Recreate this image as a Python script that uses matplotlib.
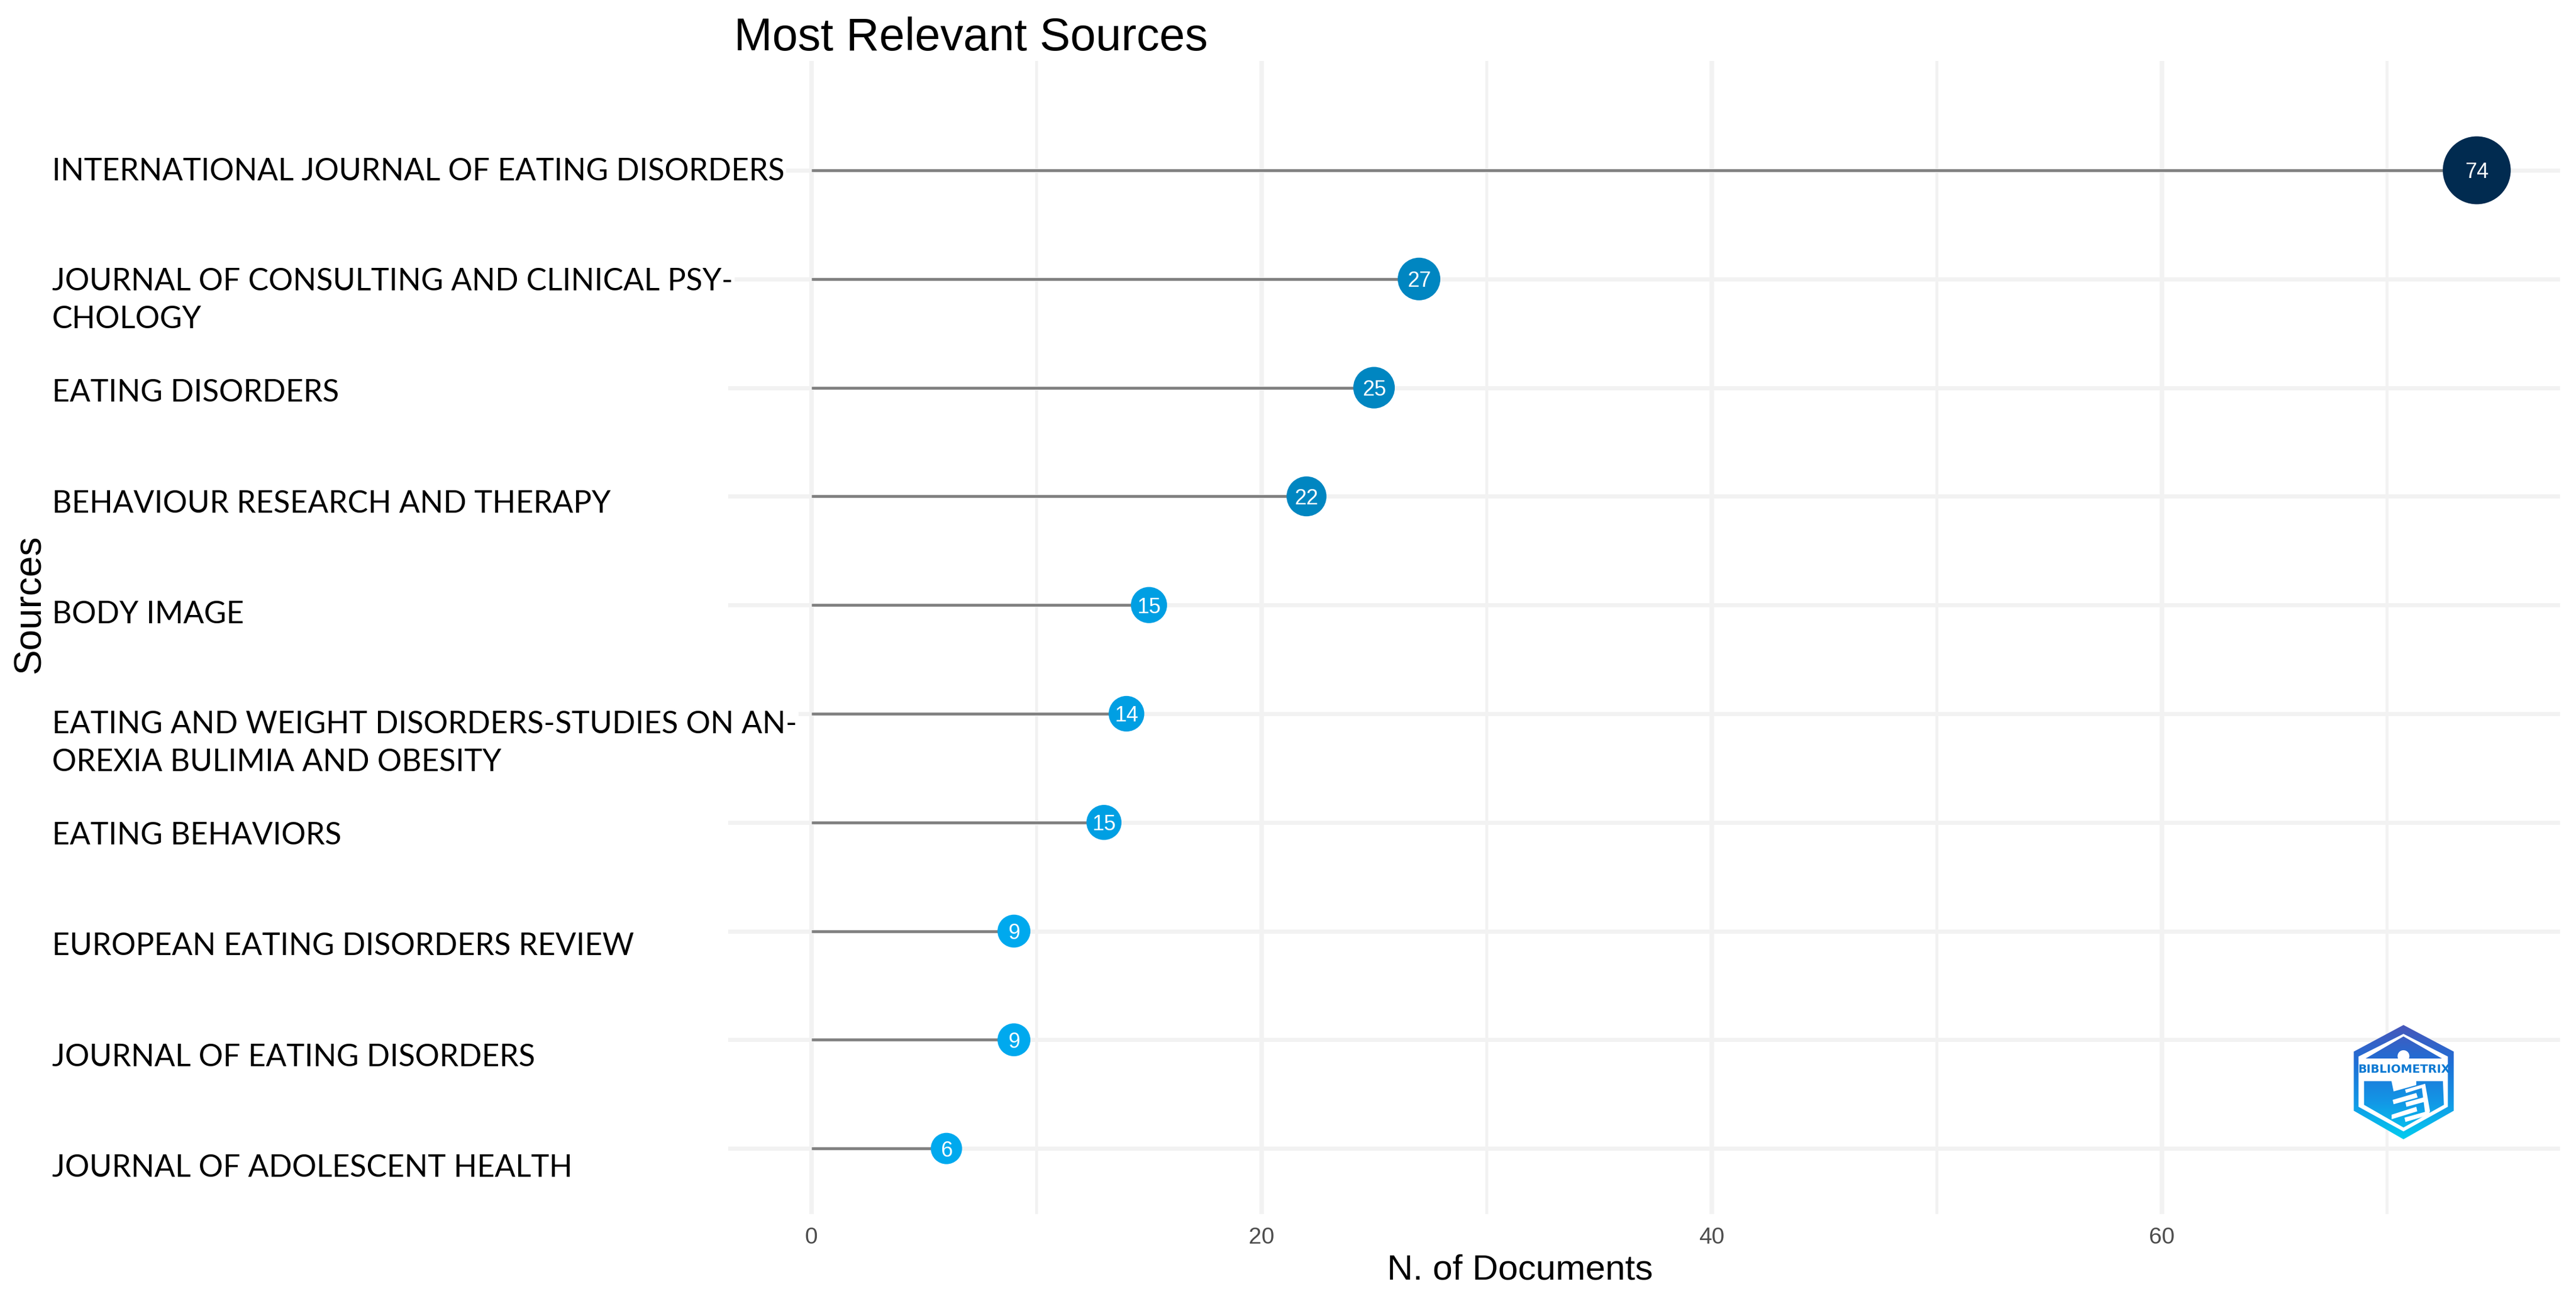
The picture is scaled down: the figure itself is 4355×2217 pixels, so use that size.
import numpy as np
import matplotlib
matplotlib.use('Agg')
import matplotlib.pyplot as plt
from matplotlib.colors import LinearSegmentedColormap
from matplotlib.patches import Polygon, Circle

sources = ['INTERNATIONAL JOURNAL OF EATING DISORDERS',
           'JOURNAL OF CONSULTING AND CLINICAL PSY-\nCHOLOGY',
           'EATING DISORDERS',
           'BEHAVIOUR RESEARCH AND THERAPY',
           'BODY IMAGE',
           'EATING AND WEIGHT DISORDERS-STUDIES ON AN-\nOREXIA BULIMIA AND OBESITY',
           'EATING BEHAVIORS',
           'EUROPEAN EATING DISORDERS REVIEW',
           'JOURNAL OF EATING DISORDERS',
           'JOURNAL OF ADOLESCENT HEALTH']
n_docs = [74, 27, 25, 22, 15, 14, 13, 9, 9, 6]
point_labels = ['74', '27', '25', '22', '15', '14', '15', '9', '9', '6']
major_ticks = [0, 20, 40, 60]
minor_ticks = [10, 30, 50, 70]

W, H = 4355, 2217
GRID = '#f2f2f2'


def fx(x):
    return x / W


def fy(y):
    return 1 - y / H


def dot_color(v):
    if v > 40:
        return '#012b50'
    if v > 20:
        return '#0086c1'
    if v > 10:
        return '#009fe3'
    return '#00a9ee'


fig = plt.figure(figsize=(W / 100, H / 100), dpi=100, facecolor='white')
ax = fig.add_axes([fx(1231), fy(2053), (4328 - 1231) / W, (2053 - 103) / H])
ax.set_xlim(-3.7, 77.7)
ax.set_ylim(9.603, -1.0065)
for s in ax.spines.values():
    s.set_visible(False)

rows = np.arange(len(sources))
ax.set_xticks(major_ticks)
ax.set_xticks(minor_ticks, minor=True)
ax.set_yticks(rows)
ax.set_yticklabels([])
ax.set_axisbelow(True)
ax.grid(axis='x', which='major', color=GRID, lw=5.5)
ax.grid(axis='x', which='minor', color=GRID, lw=3.6)
ax.grid(axis='y', which='major', color=GRID, lw=5)
ax.tick_params(axis='both', which='both', length=0)
ax.tick_params(axis='x', labelsize=28, labelcolor='#4d4d4d', pad=16)
for t in ax.get_xticklabels():
    t.set_family('Liberation Sans')

ax.hlines(rows, 0, n_docs, color='#808080', lw=3.4, zorder=2)
diam = 47.5 + 0.91 * np.array(n_docs)
ax.scatter(n_docs, rows, s=(diam * 0.72) ** 2, c=[dot_color(v) for v in n_docs],
           linewidths=0, zorder=3)
for v, r, lab in zip(n_docs, rows, point_labels):
    ax.text(v, r, lab, color='white', fontsize=26, ha='center', va='center_baseline',
            family='Liberation Sans', zorder=4)

# source names sit on their own spacing, a bit wider than the rows
for i, name in enumerate(sources):
    first_base = 305 + 187.2 * i
    n_extra = name.count('\n')
    fig.text(fx(88), fy(first_base + 63 * n_extra), name, family='Lato', fontsize=37.2,
             color='black', ha='left', va='baseline', linespacing=1.45,
             bbox=dict(facecolor='white', edgecolor='none', pad=2))

fig.text(fx(1241), fy(85), 'Most Relevant Sources', family='Liberation Sans', fontsize=55.8,
         ha='left', va='baseline')
fig.text(fx(2570), fy(2163), 'N. of Documents', family='Liberation Sans', fontsize=43.5,
         ha='center', va='baseline')
fig.text(fx(81), fy(1022), 'Sources', family='Liberation Sans', fontsize=46, rotation=90,
         ha='right', va='center')

# logo, drawn in the pixels of a 3x crop
logo = fig.add_axes([fx(3900), fy(1980), 340 / W, 300 / H], zorder=5)
logo.patch.set_alpha(0)
logo.axis('off')
grad = LinearSegmentedColormap.from_list('logo', ['#4a55b8', '#1f6fd6', '#1397e6', '#00d0f0'])
g = np.linspace(0, 1, 256).reshape(-1, 1)


def grad_poly(pts, z):
    im = logo.imshow(g, cmap=grad, extent=(0, 1020, 750, 150), aspect='auto', zorder=z)
    p = Polygon(pts, closed=True, transform=logo.transData, facecolor='none', edgecolor='none')
    logo.add_patch(p)
    im.set_clip_path(p)


def white_poly(pts, z=3):
    logo.add_patch(Polygon(pts, closed=True, facecolor='white', edgecolor='none', zorder=z))


grad_poly([(490, 160), (745, 295), (745, 595), (490, 740), (238, 595), (238, 295)], 1)
white_poly([(490, 205), (715, 320), (715, 575), (490, 700), (262, 575), (262, 320)], 1.5)
grad_poly([(490, 218), (685, 330), (298, 330)], 2)
grad_poly([(290, 445), (690, 445), (695, 565), (490, 680), (290, 565)], 2)
logo.add_patch(Circle((490, 318), 30, facecolor='white', edgecolor='none', zorder=3))
white_poly([(452, 330), (528, 330), (530, 420), (450, 420)])
white_poly([(425, 425), (555, 425), (555, 465), (440, 497)])
white_poly([(498, 488), (600, 458), (625, 600), (600, 608), (583, 480), (503, 505)])
white_poly([(435, 540), (555, 505), (562, 528), (440, 562)])
white_poly([(500, 553), (600, 525), (604, 548), (505, 575)])
white_poly([(430, 615), (555, 575), (560, 598), (430, 638)])
white_poly([(495, 630), (620, 595), (625, 615), (500, 652)])
logo.text(492, 384, 'BIBLIOMETRIX', color='#0a78d2', fontsize=14, fontweight='bold',
          family='DejaVu Sans', ha='center', va='center', zorder=4)
logo.set_xlim(0, 1020)
logo.set_ylim(900, 0)

fig.savefig('out.png', dpi=100, facecolor='white')
